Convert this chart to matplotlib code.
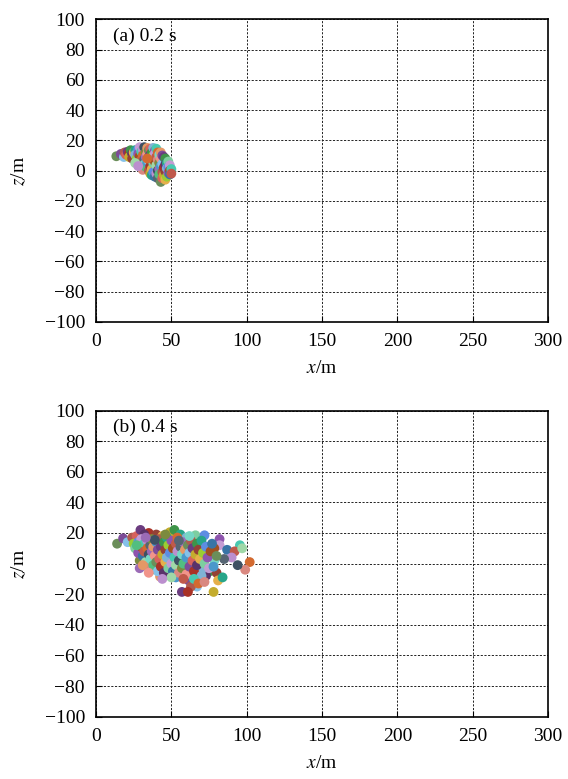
import matplotlib
matplotlib.use("Agg")
import matplotlib.pyplot as plt

plt.rcParams["font.family"] = ["Liberation Serif", "DejaVu Serif"]
plt.rcParams["mathtext.fontset"] = "stix"

# (a) t = 0.2 s, particle positions (x, z) in m
xa = [13.5, 16.5, 18.5, 19, 20, 21, 22, 22, 23, 24, 24, 25, 26, 26, 27, 27, 28, 28,
      29, 29, 29, 30, 30, 30, 31, 31, 31, 32, 32, 32, 33, 33, 33, 34, 34, 34, 35, 35,
      35, 35, 36, 36, 36, 36, 37, 37, 37, 37, 37, 38, 38, 38, 38, 39, 39, 39, 39, 40,
      40, 40, 40, 41, 41, 41, 41, 42, 42, 42, 42, 43, 43, 43, 43, 44, 44, 44, 44, 45,
      45, 45, 46, 46, 46, 46, 47, 47, 47, 48, 48, 48, 49, 49, 49, 50, 50, 26, 28, 34]
za = [9.5, 11, 9, 12, 10.5, 12.5, 11.5, 9, 13.5, 11, 8, 12, 13.5, 10.5, 8, 6, 14, 11,
      15.5, 9.5, 4.5, 12.5, 7, 2, 14, 10, 0.5, 15.5, 7.5, 4, 12, 9, 2.5, 15, 11, 5.5,
      13.5, 9, 6.5, 0, 14.5, 10.5, 3, -2, 12, 8, 4.5, 1, -3, 15, 10, 5, -1, 13, 11, 6,
      -4, 14.5, 9, 3.5, -2, 12, 7, 0, -5, 10.5, 5, 1, -2.5, 12, 8, 3, -7.5, 10, 4.5,
      -1, -5, 9, 2, -3, 8, 4, -0.5, -6, 5, 1.5, -4, 6, 2.5, -1.5, 3.5, 0, -2.5, 1, -2,
      5, 3, 8]

# (b) t = 0.4 s
xb = [14, 18, 21, 24, 27, 29.5, 35, 49, 52, 32, 40, 44, 56, 60, 62.5, 66, 72, 82,
      82, 78.5, 87, 95.5, 92, 97, 90, 102, 99, 94, 85, 78.5,
      29, 29, 37, 42.5, 48, 53, 62.5, 61.5, 67, 63, 69, 57, 61, 78, 75.5, 73, 80, 81,
      84, 70,
      25, 26, 28, 28, 30, 30, 31, 32, 32, 33, 34, 34, 34, 35, 36, 36, 37, 37, 38, 38,
      39, 40, 40, 41, 41, 42, 42, 43, 43, 44, 45, 45, 46, 46, 47, 47, 48, 48, 49, 50,
      50, 51, 51, 52, 53, 53, 54, 54, 55, 55, 56, 57, 57, 58, 58, 59, 60, 60, 61, 62,
      62, 63, 64, 64, 65, 66, 67, 67, 68, 69, 70, 70, 71, 72, 73, 74, 75, 76, 77, 65,
      58, 50, 44, 68, 72, 39, 55, 62, 46, 33, 27, 31, 35, 78, 80]
zb = [13, 16.5, 14, 17, 18, 22, 20, 20.5, 22, 19, 19, 18, 19, 17, 15, 18.5, 18.5, 16,
      12, 10, 9, 12, 8, 10, 4, 1, -4, -1, 3, 2,
      2, -3, -4, -8.5, -7.5, -9, -7.5, -11, -15, -15, -11, -18.5, -18.5, -18.5, -5,
      -8, -6, -11, -9, -4,
      13, 10, 14, 7, 16, 11, 5, 13, 8, 1, 15, 10, -2, 6, 12, 3, 16, 8, -1, 11, 5, 14,
      1, 9, -5, 16, 3, 11, -2, 6, 14, -6, 9, 1, 17, 4, 12, -3, 7, 15, 0, 10, -5, 4,
      13, -1, 8, 17, -6, 2, 11, 6, -3, 14, 0, 9, -7, 4, 12, -2, 7, 15, 2, 10, -5, 6,
      13, -1, 9, 3, 15, -8, 7, 0, 11, 4, -3, 8, 13, -10, -10, -9, -10, -13, -12, 15.5,
      15, 18, 19, 17, 12, -1, -6, -2, 5]

panel_labels = ["(a) 0.2 s", "(b) 0.4 s"]
xticks = [0, 50, 100, 150, 200, 250, 300]
zticks = [-100, -80, -60, -40, -20, 0, 20, 40, 60, 80, 100]

palette = ["#6b8e5a", "#9b6bb6", "#d98880", "#48c9b0", "#5d8de2", "#e5b04a",
           "#a93226", "#7d4c98", "#52be80", "#3e5063", "#c0594b", "#8e54ad",
           "#27a589", "#c4ac2d", "#85c1e9", "#e59866", "#566573", "#9fd8a8",
           "#c39bd3", "#7fb3d5", "#3e9449", "#b05a4e", "#f1948a", "#76d7c4",
           "#bb8fce", "#a05020", "#9acd32", "#5a336a", "#d7625c", "#4a98cb",
           "#7c8a3e", "#d36a30", "#3874a6", "#7dcea0", "#944136", "#6b3c7f"]

fig = plt.figure(figsize=(5.68, 7.79), dpi=100)
ax_a = fig.add_axes([0.169, 0.587, 0.796, 0.388])
ax_b = fig.add_axes([0.169, 0.080, 0.796, 0.393])

for ax, xs, zs, label in [(ax_a, xa, za, panel_labels[0]),
                          (ax_b, xb, zb, panel_labels[1])]:
    cols = [palette[(i * 7) % len(palette)] for i in range(len(xs))]
    ax.scatter(xs, zs, s=50, c=cols, marker="o", linewidths=0, zorder=3)
    ax.set_xlim(0, 300)
    ax.set_ylim(-100, 100)
    ax.set_xticks(xticks)
    ax.set_yticks(zticks)
    ax.grid(True, color="#222222", linestyle=(0, (2.2, 1.6)), linewidth=0.7)
    ax.tick_params(direction="in", length=4, labelsize=14, pad=8)
    for sp in ax.spines.values():
        sp.set_linewidth(1.2)
    ax.set_xlabel(r"$x$/m", fontsize=14, labelpad=7)
    ax.set_ylabel(r"$z$/m", fontsize=14, labelpad=12)
    ax.text(0.038, 0.944, label, transform=ax.transAxes, fontsize=14,
            va="center", ha="left")

fig.savefig("out.png", dpi=100)
